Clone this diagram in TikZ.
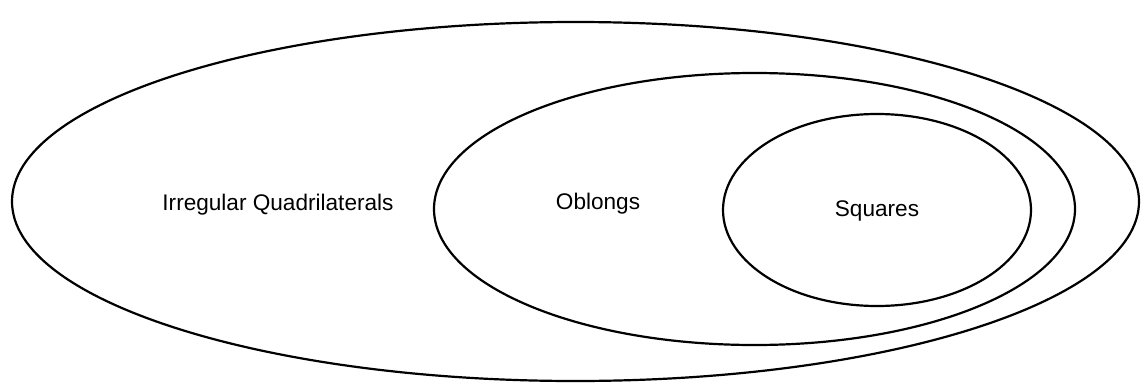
\documentclass[tikz,border=0pt]{standalone}
\usepackage{fontspec}
\setmainfont{Liberation Sans}
\begin{document}
\begin{tikzpicture}[x=1pt,y=-1pt,
  set/.style={draw=black,line width=2.2pt},
  lbl/.style={font=\fontsize{22.6}{26}\selectfont,anchor=base,inner sep=0pt}]
\useasboundingbox (0,0) rectangle (1141,383);
\draw[set] (575.5,201.5) ellipse [x radius=563.5, y radius=179.5];
\draw[set] (754.5,209) ellipse [x radius=320.5, y radius=136];
\draw[set] (877,210) ellipse [x radius=154, y radius=96];
\node[lbl] (irr) at (278,210) {Irregular Quadrilaterals};
\node[lbl] (obl) at (598,209) {Oblongs};
\node[lbl] (sq) at (877,216) {Squares};
\end{tikzpicture}
\end{document}
